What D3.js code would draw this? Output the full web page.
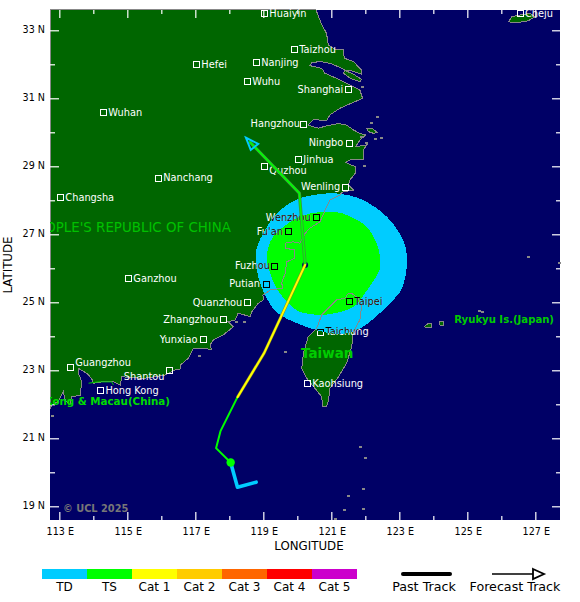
<!DOCTYPE html>
<html>
<head>
<meta charset="utf-8">
<style>
    html, body { margin: 0; background: #fff; }
    svg { display: block; }
    text { font-family: "DejaVu Sans", sans-serif; }
</style>
</head>
<body>
<svg id="chart" width="580" height="602"></svg>
<script src="https://cdn.jsdelivr.net/npm/d3@7"></script>
<script>
// Coastlines as [lon, lat]
let mainland = [
    [120.55,33.6],[120.72,33.16],[120.86,32.91],[120.91,32.57],[121.11,32.44],[121.35,32.44],[121.38,32.18],
    [121.65,32.08],[121.89,31.83],[121.89,31.71],[121.63,31.8],[121.4,31.83],[121.2,31.93],[120.96,32.03],
    [120.67,32.08],[120.42,32.05],[120.37,31.96],[120.72,31.88],[120.81,31.74],[121.26,31.54],[121.55,31.39],
    [121.84,31.24],[121.92,31.0],[121.6,30.86],[121.26,30.71],[120.96,30.51],[120.86,30.34],[120.47,30.38],
    [120.32,30.21],[120.62,30.12],[120.86,30.19],[121.21,30.26],[121.45,30.21],[121.65,30.07],[121.84,29.97],
    [122.01,29.92],[121.84,29.77],[121.72,29.58],[121.87,29.6],[122.04,29.63],[121.94,29.48],[121.94,29.19],
    [121.75,29.19],[121.55,29.19],[121.42,29.11],[121.7,28.99],[121.7,28.79],[121.55,28.6],[121.5,28.45],
    [121.65,28.3],[121.31,28.24],[121.26,28.16],[120.96,28.01],[120.86,27.81],[120.67,27.37],[120.37,27.18],
    [120.23,27.03],[120.08,26.74],[119.88,26.78],[119.64,26.74],[119.64,26.59],[119.93,26.54],[119.93,26.3],
    [119.69,26.19],[119.64,25.85],[119.54,25.56],[119.58,25.42],[119.2,25.36],[118.99,25.21],[119.0,25.07],
    [118.85,24.97],[118.66,24.72],[118.61,24.58],[118.26,24.68],[118.17,24.48],[117.97,24.43],[118.12,24.28],
    [117.82,24.04],[117.53,23.89],[117.43,23.74],[117.48,23.6],[117.29,23.65],[116.94,23.65],[116.79,23.35],
    [116.57,23.16],[116.55,23.03],[116.4,23.01],[116.11,22.86],[115.47,22.76],[114.84,22.81],[114.79,22.57],
    [114.59,22.66],[114.25,22.66],[114.0,22.62],[113.95,22.76],[113.81,22.91],[113.56,23.06],[113.56,22.92],
    [113.66,22.66],[113.61,22.27],[113.36,22.22],[113.31,21.98],[113.17,22.13],[113.12,22.37],[112.97,22.08],
    [112.78,21.98],[112.73,21.88],[112.73,33.6]
]
let taiwan = [
    [121.6,25.26],[121.79,25.12],[121.89,24.87],[121.84,24.48],[121.65,24.14],[121.6,23.69],[121.45,23.21],
    [121.21,22.81],[120.96,22.47],[120.91,22.08],[120.86,21.93],[120.74,21.93],[120.72,22.22],[120.52,22.47],
    [120.28,22.76],[120.13,23.06],[120.18,23.5],[120.32,23.99],[120.57,24.24],[120.72,24.63],[120.96,24.87],
    [121.16,25.07],[121.4,25.12],[121.5,25.26]
]
let cheju = [[126.21,33.25],[126.31,33.4],[126.55,33.45],[126.84,33.5],[126.99,33.4],[126.79,33.28],[126.45,33.22]]
let chongming = [[121.4,31.81],[121.6,31.74],[121.89,31.56],[121.84,31.49],[121.55,31.59],[121.35,31.74]]
let zhoushan = [[122.04,30.12],[122.19,30.12],[122.36,29.99],[122.24,29.97],[122.09,30.02]]
let ishigaki = [[123.74,24.28],[123.82,24.36],[123.95,24.38],[123.95,24.26],[123.81,24.25]]
let miyako = [[124.18,24.43],[124.31,24.45],[124.29,24.33],[124.2,24.31]]
let islets = [
    [122.19,30.26],[122.35,30.44],[121.89,29.87],[122.31,29.79],[122.48,29.82],[122.04,29.68],[121.99,29.01],
    [121.92,31.32],[126.81,26.33],[127.7,26.16],[125.37,24.75],[125.45,24.72],[121.87,20.74],[122.01,20.43],
    [121.96,19.51],[121.5,19.31],[121.4,18.89],[121.96,18.93],[121.11,18.63],[112.81,21.66],[117.12,23.42],
    [118.46,24.41],[118.22,24.43],[119.64,23.55]
]
let hongKongBorder = [[113.86,22.62],[114.15,22.66],[114.54,22.66],[114.59,22.57]]

// Wind extent outlines around the storm
let tdExtent = [
    [118.79,26.24],[118.81,26.6],[119.05,27.13],[119.49,27.71],[120.08,28.06],[120.76,28.19],[121.26,28.19],
    [121.93,28.01],[122.64,27.51],[123.11,26.83],[123.23,26.19],[123.08,25.42],[122.73,24.98],[122.14,24.43],
    [121.65,24.14],[121.11,24.07],[120.37,24.24],[119.49,24.63],[119.1,25.12],[118.85,25.75]
]
let tsExtent = [
    [119.1,26.24],[119.17,26.69],[119.39,27.04],[119.88,27.42],[120.37,27.61],[120.96,27.66],[121.45,27.57],
    [122.04,27.22],[122.37,26.63],[122.43,26.16],[122.38,25.86],[121.99,25.27],[121.65,24.87],[121.16,24.69],
    [120.67,24.63],[120.08,24.72],[119.73,24.98],[119.4,25.39],[119.2,25.86]
]

// Track, split by category
let pastTD = [[118.79,19.71],[118.24,19.56],[118.04,20.29]]
let forecastTS = [[118.04,20.29],[117.61,20.71],[117.74,21.21],[118.24,22.21]]
let forecastCat1 = [[118.24,22.21],[119.02,23.5],[120.23,26.1]]
let forecastTS2 = [[120.23,26.1],[120.06,28.21],[118.6,29.72]]
let arrowHead = [[118.49,29.84],[118.85,29.66],[118.63,29.48]]
let currentPos = [118.04,20.29]
let stormPos = [120.23,26.1]

let cityNames = ['Huaiyin','Cheju','Taizhou','Hefei','Nanjing','Wuhu','Shanghai','Wuhan','Hangzhou','Ningbo','Jinhua','Quzhou',
    'Nanchang','Changsha','Wenling','Wenzhou',"Fu'an",'Fuzhou','Ganzhou','Putian','Quanzhou','Zhangzhou','Yunxiao','Taipei',
    'Taichung','Guangzhou','Shantou','Hong Kong','Kaohsiung']
let cityLons = [119.03,126.55,119.91,117.03,118.79,118.53,121.5,114.29,120.18,121.53,120.03,119.03,
    115.91,113.03,121.41,120.54,119.74,119.32,115.03,119.07,118.53,117.82,117.24,121.53,
    120.68,113.32,116.24,114.21,120.29]
let cityLats = [33.5,33.5,32.44,32.0,32.06,31.5,31.26,30.59,30.25,29.69,29.21,29.0,
    28.66,28.09,28.4,27.5,27.09,26.08,25.71,25.55,25.0,24.5,23.91,25.03,
    24.14,23.09,23.0,22.41,22.62]

let lonTicks = [113,115,117,119,121,123,125,127]
let latTicks = [33,31,29,27,25,23,21,19]
let lonMinor = [114,116,118,120,122,124,126]
let latMinor = [32,30,28,26,24,22,20]

let categories = ['TD','TS','Cat 1','Cat 2','Cat 3','Cat 4','Cat 5']
let catColors = ['#00ccff','#00ff00','#ffff00','#ffcc00','#ff6600','#ff0000','#cc00cc']

const left = 50, right = 560, top_ = 10, bottom = 520
const landColor = '#006600', seaColor = '#000066', coastColor = '#888888'

let x = d3.scaleLinear().domain([112.726, 127.726]).range([left, right])
let y = d3.scaleLinear().domain([33.597, 18.597]).range([top_, bottom])
let colorOf = d3.scaleOrdinal().domain(categories).range(catColors)

let svg = d3.select('#chart')
let line = d3.line().x(d => x(d[0])).y(d => y(d[1]))
let smooth = d3.line().x(d => x(d[0])).y(d => y(d[1])).curve(d3.curveCardinalClosed)

let defs = svg.append('defs')
defs.append('clipPath').attr('id', 'plot-clip')
    .append('rect').attr('x', left).attr('y', top_).attr('width', right - left).attr('height', bottom - top_)
defs.append('clipPath').attr('id', 'wind-clip')
    .append('path').attr('d', smooth(tdExtent))

// sea
svg.append('rect').attr('x', left).attr('y', top_).attr('width', right - left).attr('height', bottom - top_)
    .attr('fill', seaColor)

// land fill goes under the wind extents, coast line over them
let landRings = [mainland, taiwan, cheju, zhoushan, ishigaki, miyako]
svg.append('g').selectAll('path').data(landRings).enter().append('path')
    .attr('d', d => line(d) + 'Z')
    .attr('fill', landColor)
    .attr('shape-rendering', 'crispEdges')
svg.append('path').attr('d', line(chongming) + 'Z').attr('fill', landColor).attr('shape-rendering', 'crispEdges')

svg.append('path').attr('d', smooth(tdExtent)).attr('fill', colorOf('TD')).attr('shape-rendering', 'crispEdges')
svg.append('path').attr('d', smooth(tsExtent)).attr('fill', colorOf('TS')).attr('shape-rendering', 'crispEdges')

let coast = svg.append('g').attr('fill', 'none').attr('stroke', coastColor).attr('stroke-width', 1)
    .attr('shape-rendering', 'crispEdges')
coast.selectAll('path').data(landRings.concat([chongming])).enter().append('path')
    .attr('d', d => line(d) + 'Z')
svg.append('g').selectAll('rect').data(islets).enter().append('rect')
    .attr('x', d => x(d[0]) - 1.5).attr('y', d => y(d[1]) - 1)
    .attr('width', 3).attr('height', 2)
    .attr('fill', coastColor)
    .attr('shape-rendering', 'crispEdges')
svg.append('path').attr('d', line(hongKongBorder)).attr('fill', 'none').attr('stroke', '#00cc00').attr('stroke-width', 1)

// ticks, long on odd degrees and short on even ones, pointing inward from all four sides
let tickAxis = (axisFn, scale, values, length, transform) => {
    let g = svg.append('g').attr('transform', transform)
        .call(axisFn(scale).tickValues(values).tickSize(length).tickFormat(''))
    g.select('.domain').remove()
    g.selectAll('line').attr('stroke', '#fff').attr('stroke-width', 1.2)
}
tickAxis(d3.axisBottom, x, lonTicks, 8, `translate(0,${top_})`)
tickAxis(d3.axisBottom, x, lonMinor, 4, `translate(0,${top_})`)
tickAxis(d3.axisTop, x, lonTicks, 8, `translate(0,${bottom})`)
tickAxis(d3.axisTop, x, lonMinor, 4, `translate(0,${bottom})`)
tickAxis(d3.axisRight, y, latTicks, 9, `translate(${left},0)`)
tickAxis(d3.axisRight, y, latMinor, 5, `translate(${left},0)`)
tickAxis(d3.axisLeft, y, latTicks, 8, `translate(${right},0)`)
tickAxis(d3.axisLeft, y, latMinor, 4, `translate(${right},0)`)

// tick labels
let lonAxis = svg.append('g').attr('transform', `translate(0.5,${bottom})`)
    .call(d3.axisBottom(x).tickValues(lonTicks).tickSize(0).tickPadding(8).tickFormat(d => d + ' E'))
lonAxis.select('.domain').remove()
lonAxis.selectAll('text').attr('font-size', 9.6).attr('fill', '#000').style('font-family', '"DejaVu Sans", sans-serif')

let latAxis = svg.append('g').attr('transform', `translate(${left},-1)`)
    .call(d3.axisLeft(y).tickValues(latTicks).tickSize(0).tickPadding(5).tickFormat(d => d + ' N'))
latAxis.select('.domain').remove()
latAxis.selectAll('text').attr('font-size', 9.6).attr('fill', '#000').style('font-family', '"DejaVu Sans", sans-serif')

svg.append('text').attr('x', 309).attr('y', 550).attr('text-anchor', 'middle')
    .attr('font-size', 11.8).attr('fill', '#000').text('LONGITUDE')
svg.append('text').attr('transform', 'translate(12,265) rotate(-90)').attr('text-anchor', 'middle')
    .attr('font-size', 11.8).attr('fill', '#000').text('LATITUDE')

// region names
let regions = svg.append('g').attr('clip-path', 'url(#plot-clip)')
let regionLabel = (txt, xPos, yPos, anchor, size, weight, fill) => {
    regions.append('text').attr('x', xPos).attr('y', yPos).attr('text-anchor', anchor)
        .attr('font-size', size).attr('font-weight', weight).attr('fill', fill).text(txt)
}
regionLabel("PEOPLE'S REPUBLIC OF CHINA", 231, 231.5, 'end', 13.4, 'normal', '#00c000')
regionLabel('Hong Kong & Macau(China)', 170, 405, 'end', 10.3, 'bold', '#00dd00')
regionLabel('Ryukyu Is.(Japan)', 554, 323, 'end', 10.1, 'bold', '#00cc00')
regionLabel('Taiwan', 301, 358, 'start', 13.5, 'bold', '#00cc00')
regionLabel('\u00a9 UCL 2025', 63, 512, 'start', 9.8, 'bold', '#777777')

// cities: white on the map, black where they sit on the wind extents
let leftLabelled = new Set(['Shanghai','Hangzhou','Ningbo','Wenling','Wenzhou',"Fu'an",'Fuzhou','Putian','Quanzhou','Zhangzhou','Yunxiao','Shantou'])
let labelShiftY = { Quzhou: 4, Guangzhou: -5, Shantou: 6 }
let labelShiftX = { Hangzhou: 1.5, Fuzhou: 0.7, Ningbo: -1, Yunxiao: -1, Putian: -0.7, "Fu'an": -0.6 }
let cities = cityNames.map((name, i) => ({ name, lon: cityLons[i], lat: cityLats[i] }))

let drawCities = (color, clip) => {
    let g = svg.append('g')
    if (clip) g.attr('clip-path', clip)
    g.selectAll('rect').data(cities).enter().append('rect')
        .attr('x', d => Math.round(x(d.lon)) - 3).attr('y', d => Math.round(y(d.lat)) - 3)
        .attr('width', 6).attr('height', 6)
        .attr('fill', 'none').attr('stroke', color).attr('stroke-width', 1).attr('shape-rendering', 'crispEdges')
    g.selectAll('text').data(cities).enter().append('text')
        .attr('x', d => x(d.lon) + (leftLabelled.has(d.name) ? -5 : 5) + (labelShiftX[d.name] || 0))
        .attr('y', d => y(d.lat) + 3.5 + (labelShiftY[d.name] || 0))
        .attr('text-anchor', d => leftLabelled.has(d.name) ? 'end' : 'start')
        .attr('font-size', 9.8)
        .attr('fill', color)
        .text(d => d.name)
}
drawCities('#fff', null)
drawCities('#000', 'url(#wind-clip)')

// track
let trackSegment = (pts, cat, width) => {
    svg.append('path').attr('d', line(pts)).attr('fill', 'none')
        .attr('stroke', colorOf(cat)).attr('stroke-width', width)
        .attr('stroke-linejoin', 'round').attr('stroke-linecap', 'round')
}
svg.append('circle').attr('cx', x(stormPos[0])).attr('cy', y(stormPos[1])).attr('r', 3).attr('fill', seaColor)
svg.append('path').attr('d', line(forecastTS2)).attr('fill', 'none').attr('stroke', '#3a9a3a').attr('stroke-width', 3.2)
trackSegment(forecastTS2, 'TS', 1.6)
trackSegment(forecastTS, 'TS', 2)
svg.append('path').attr('d', line(forecastCat1)).attr('fill', 'none').attr('stroke', '#8a8a20').attr('stroke-width', 3)
trackSegment(forecastCat1, 'Cat 1', 2)
trackSegment(pastTD, 'TD', 3.6)
svg.append('circle').attr('cx', x(currentPos[0])).attr('cy', y(currentPos[1])).attr('r', 4.2).attr('fill', colorOf('TS'))
svg.append('path').attr('d', line(arrowHead) + 'Z').attr('fill', 'none')
    .attr('stroke', colorOf('TD')).attr('stroke-width', 2)

// legend
let band = d3.scaleBand().domain(categories).range([42, 357])
let legend = svg.append('g')
legend.selectAll('rect').data(categories).enter().append('rect')
    .attr('x', d => band(d)).attr('y', 569).attr('width', band.bandwidth()).attr('height', 10)
    .attr('fill', d => colorOf(d)).attr('shape-rendering', 'crispEdges')
legend.selectAll('text').data(categories).enter().append('text')
    .attr('x', d => band(d) + band.bandwidth() / 2).attr('y', 591)
    .attr('text-anchor', 'middle').attr('font-size', 12).attr('fill', '#000')
    .text(d => d)

legend.append('line').attr('x1', 403).attr('x2', 450).attr('y1', 574).attr('y2', 574)
    .attr('stroke', '#000').attr('stroke-width', 4).attr('stroke-linecap', 'round')
legend.append('text').attr('x', 424).attr('y', 591).attr('text-anchor', 'middle')
    .attr('font-size', 12.7).attr('fill', '#000').text('Past Track')
legend.append('line').attr('x1', 492).attr('x2', 533).attr('y1', 574).attr('y2', 574)
    .attr('stroke', '#000').attr('stroke-width', 1.4)
legend.append('path').attr('d', d3.line()([[533, 569], [544, 574], [533, 579]]) + 'Z')
    .attr('fill', 'none').attr('stroke', '#000').attr('stroke-width', 1.8)
legend.append('text').attr('x', 515).attr('y', 591).attr('text-anchor', 'middle')
    .attr('font-size', 12.7).attr('fill', '#000').text('Forecast Track')
</script>
</body>
</html>
